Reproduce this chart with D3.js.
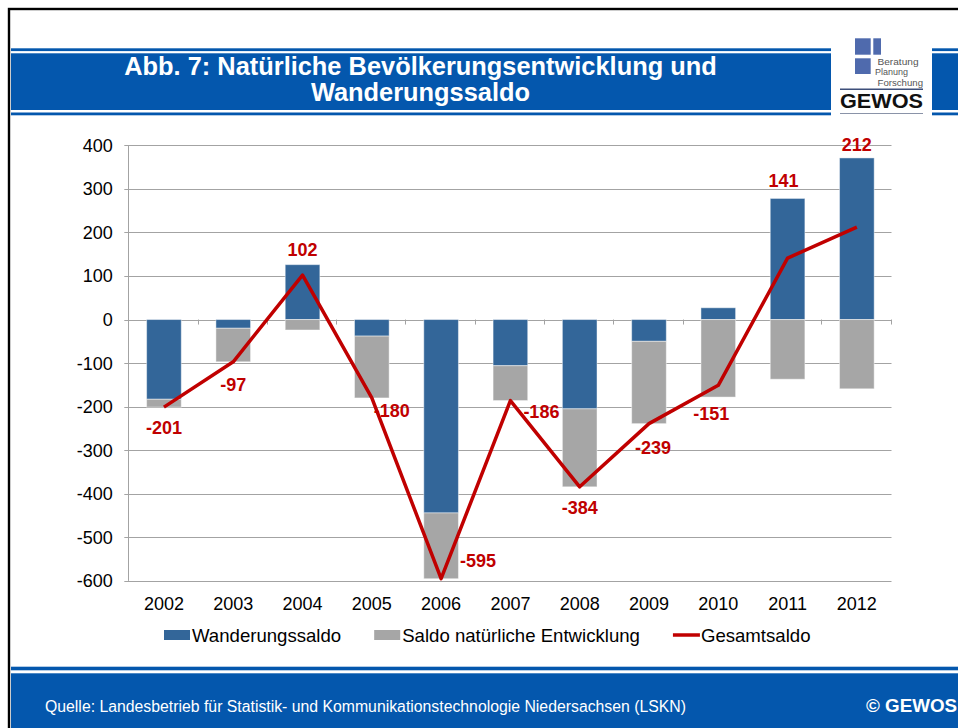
<!DOCTYPE html>
<html>
<head>
<meta charset="utf-8">
<script src="https://cdnjs.cloudflare.com/ajax/libs/d3/7.8.5/d3.min.js"></script>
<style>
  body { margin: 0; background: #fff; }
  svg { display: block; font-family: Arial, "Liberation Sans", sans-serif; }
</style>
</head>
<body>
<div id="chart-container"></div>
<script>
const years = ['2002', '2003', '2004', '2005', '2006', '2007', '2008', '2009', '2010', '2011', '2012'];
const wanderungssaldo = [-183, -20, 126, -38, -444, -106, -205, -50, 27, 278, 371];
const natuerlicheEntwicklung = [-18, -77, -24, -142, -151, -80, -179, -189, -178, -137, -159];
const gesamtsaldo = [-201, -97, 102, -180, -595, -186, -384, -239, -151, 141, 212];
const yTicks = [400, 300, 200, 100, 0, -100, -200, -300, -400, -500, -600];
const seriesNames = ['Wanderungssaldo', 'Saldo natürliche Entwicklung', 'Gesamtsaldo'];

const BLUE = '#0457ad';
const BAR_BLUE = '#336699';
const BAR_GREY = '#a6a6a6';
const RED = '#c00000';

const svg = d3.select('#chart-container')
  .append('svg')
  .attr('width', 958)
  .attr('height', 728);

// slide frame
svg.append('rect').attr('x', 9).attr('y', 9).attr('width', 960).attr('height', 730)
  .attr('fill', 'none').attr('stroke', '#000').attr('stroke-width', 2.4);

// header bands (left of logo and right of logo)
[[11, 831], [932, 958]].forEach(([x0, x1]) => {
  svg.append('rect').attr('x', x0).attr('y', 48.3).attr('width', x1 - x0).attr('height', 2.8).attr('fill', BLUE);
  svg.append('rect').attr('x', x0).attr('y', 53.3).attr('width', x1 - x0).attr('height', 56.7).attr('fill', BLUE);
  svg.append('rect').attr('x', x0).attr('y', 112.5).attr('width', x1 - x0).attr('height', 2.8).attr('fill', BLUE);
});

svg.append('text')
  .attr('x', 420.5).attr('y', 74.5)
  .attr('text-anchor', 'middle')
  .attr('fill', '#fff').attr('font-weight', 'bold').attr('font-size', 25.4)
  .text('Abb. 7: Natürliche Bevölkerungsentwicklung und');
svg.append('text')
  .attr('x', 420.5).attr('y', 100.8)
  .attr('text-anchor', 'middle')
  .attr('fill', '#fff').attr('font-weight', 'bold').attr('font-size', 25.4)
  .text('Wanderungssaldo');

// GEWOS logo
const logo = svg.append('g');
logo.append('rect').attr('x', 855).attr('y', 38.3).attr('width', 15.7).attr('height', 16.4).attr('fill', '#4f6aad');
logo.append('rect').attr('x', 873.3).attr('y', 38.3).attr('width', 7.7).attr('height', 16.4).attr('fill', '#4f6aad');
logo.append('rect').attr('x', 855).attr('y', 58.3).attr('width', 15.7).attr('height', 15.7).attr('fill', '#4f6aad');
[['Beratung', 877.5, 64.5, 41], ['Planung', 875, 75, 33], ['Forschung', 877.5, 85.5, 45.5]].forEach(([t, x, y, w]) => {
  logo.append('text').attr('x', x).attr('y', y)
    .attr('font-size', 9.3).attr('fill', '#555')
    .attr('textLength', w)
    .attr('lengthAdjust', 'spacingAndGlyphs')
    .text(t);
});
logo.append('line').attr('x1', 840).attr('x2', 923).attr('y1', 89.3).attr('y2', 89.3)
  .attr('stroke', '#3d4f7a').attr('stroke-width', 1.5);
logo.append('text').attr('x', 840).attr('y', 107.5)
  .attr('font-size', 20).attr('font-weight', 'bold').attr('fill', '#111')
  .attr('textLength', 83).attr('lengthAdjust', 'spacingAndGlyphs')
  .text('GEWOS');
logo.append('line').attr('x1', 840).attr('x2', 923).attr('y1', 113.5).attr('y2', 113.5)
  .attr('stroke', '#8a93a8').attr('stroke-width', 1.2);

// footer
svg.append('rect').attr('x', 11).attr('y', 666.7).attr('width', 947).attr('height', 3.6).attr('fill', BLUE);
svg.append('rect').attr('x', 11).attr('y', 673.3).attr('width', 947).attr('height', 60).attr('fill', BLUE);
svg.append('text').attr('x', 45).attr('y', 711.5)
  .attr('font-size', 15.8).attr('fill', '#fff')
  .text('Quelle: Landesbetrieb für Statistik- und Kommunikationstechnologie Niedersachsen (LSKN)');
svg.append('text').attr('x', 866).attr('y', 711.5)
  .attr('font-size', 18.8).attr('font-weight', 'bold').attr('fill', '#fff')
  .text('© GEWOS');

// chart
const plot = { left: 129.3, right: 891.5, top: 145.3, bottom: 580.9 };

const x = d3.scaleBand().domain(years).range([plot.left, plot.right]).padding(0);
const y = d3.scaleLinear().domain([-600, 400]).range([plot.bottom, plot.top]);
const step = x.step();

// gridlines + y ticks
svg.append('g')
  .selectAll('line')
  .data(yTicks)
  .enter()
  .append('line')
  .attr('x1', plot.left - 5)
  .attr('x2', plot.right)
  .attr('y1', (d) => Math.round(y(d)) + 0.5)
  .attr('y2', (d) => Math.round(y(d)) + 0.5)
  .attr('stroke', '#a3a3a3')
  .attr('stroke-width', 1);

svg.append('g')
  .selectAll('text')
  .data(yTicks)
  .enter()
  .append('text')
  .attr('x', plot.left - 16.5)
  .attr('y', (d) => y(d) + 6.5)
  .attr('text-anchor', 'end')
  .attr('font-size', 18)
  .attr('fill', '#000')
  .text((d) => String(d));

// stacked bars
const table = years.map((yr, i) => ({ year: yr, w: wanderungssaldo[i], n: natuerlicheEntwicklung[i] }));
const stacked = d3.stack().keys(['w', 'n']).offset(d3.stackOffsetDiverging)(table);
const colors = { w: BAR_BLUE, n: BAR_GREY };

stacked.forEach((layer) => {
  svg.append('g')
    .selectAll('rect')
    .data(layer)
    .enter()
    .append('rect')
    .attr('x', (d) => x(d.data.year) + step * 0.25)
    .attr('width', step * 0.5)
    .attr('y', (d) => y(Math.max(d[0], d[1])))
    .attr('height', (d) => Math.abs(y(d[0]) - y(d[1])))
    .attr('fill', colors[layer.key])
    .attr('stroke', '#ffffff')
    .attr('stroke-opacity', 0.45)
    .attr('stroke-width', 1);
});

// y axis line
svg.append('line')
  .attr('x1', Math.round(plot.left) - 0.5).attr('x2', Math.round(plot.left) - 0.5)
  .attr('y1', plot.top).attr('y2', plot.bottom)
  .attr('stroke', '#a3a3a3');

// category axis at zero with tick marks between categories
const boundaries = years.map((d) => x(d)).concat([plot.right]);
svg.append('g')
  .selectAll('line')
  .data(boundaries)
  .enter()
  .append('line')
  .attr('x1', (d) => Math.round(d) - 0.5)
  .attr('x2', (d) => Math.round(d) - 0.5)
  .attr('y1', y(0))
  .attr('y2', y(0) + 5)
  .attr('stroke', '#a3a3a3');

svg.append('g')
  .selectAll('text')
  .data(years)
  .enter()
  .append('text')
  .attr('x', (d) => x(d) + step / 2)
  .attr('y', 610)
  .attr('text-anchor', 'middle')
  .attr('font-size', 18)
  .attr('fill', '#000')
  .text((d) => d);

// Gesamtsaldo line
const line = d3.line()
  .x((d, i) => x(years[i]) + step / 2)
  .y((d) => y(d));

svg.append('path')
  .datum(gesamtsaldo)
  .attr('d', line)
  .attr('fill', 'none')
  .attr('stroke', RED)
  .attr('stroke-width', 3.5)
  .attr('stroke-linejoin', 'round');

// data labels, nudged like the hand-placed labels in the slide
const labelNudge = [[0, 20], [0, 23], [0, -26], [20, 13], [37, -18], [31, 11], [0, 21], [4, 24], [-7, 28], [-4, -78], [0, -83]];
svg.append('g')
  .selectAll('text')
  .data(gesamtsaldo)
  .enter()
  .append('text')
  .attr('x', (d, i) => x(years[i]) + step / 2 + labelNudge[i][0])
  .attr('y', (d, i) => y(d) + labelNudge[i][1] + 6.5)
  .attr('text-anchor', 'middle')
  .attr('font-size', 18)
  .attr('font-weight', 'bold')
  .attr('fill', RED)
  .text((d) => String(d));

// legend
const legend = svg.append('g');
let lx = 164;
seriesNames.forEach((name, i) => {
  if (i < 2) {
    legend.append('rect').attr('x', lx).attr('y', 630).attr('width', 26).attr('height', 10)
      .attr('fill', i === 0 ? BAR_BLUE : BAR_GREY);
  } else {
    legend.append('line').attr('x1', lx).attr('x2', lx + 27).attr('y1', 635).attr('y2', 635)
      .attr('stroke', RED).attr('stroke-width', 3.5);
  }
  const t = legend.append('text').attr('x', lx + 28).attr('y', 641.5)
    .attr('font-size', 18.6).attr('fill', '#000').text(name);
  lx += 28 + t.node().getComputedTextLength() + 33;
});
</script>
</body>
</html>
